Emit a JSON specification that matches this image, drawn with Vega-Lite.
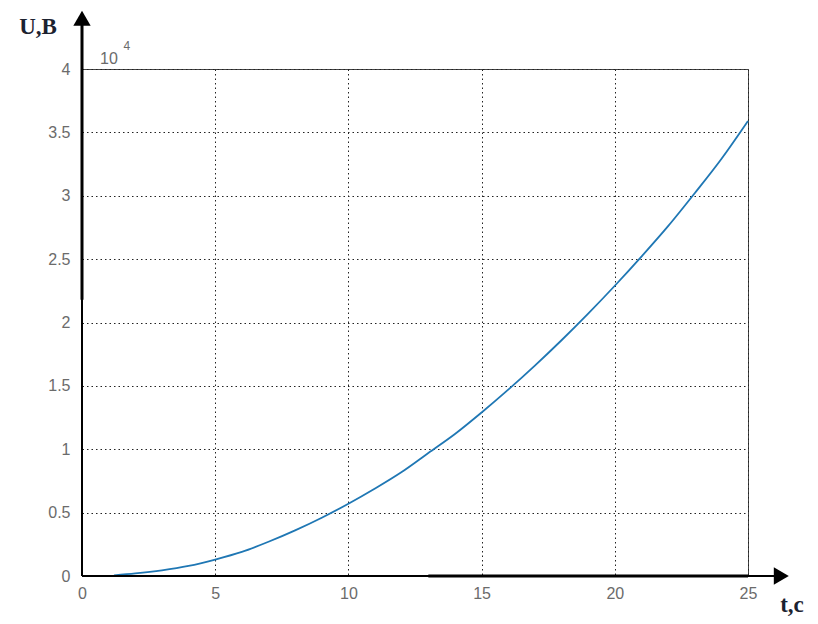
{
  "$schema": "https://vega.github.io/schema/vega-lite/v6.json",
  "width": 666,
  "height": 507,
  "autosize": "none",
  "padding": {"left": 82, "top": 69, "right": 70, "bottom": 48},
  "background": "white",
  "config": {
    "view": {"stroke": "#444", "strokeWidth": 1},
    "font": "Liberation Sans"
  },
  "encoding": {
    "x": {
      "field": "t",
      "type": "quantitative",
      "scale": {"domain": [0, 25], "nice": false, "zero": false},
      "axis": {
        "values": [0, 5, 10, 15, 20, 25],
        "title": null,
        "domain": false,
        "ticks": false,
        "labelPadding": 9,
        "labelFontSize": 16,
        "labelColor": "#6b6b6b",
        "labelFlush": false,
        "grid": true,
        "gridColor": "#222",
        "gridDash": [1.5, 3],
        "gridWidth": 1
      }
    },
    "y": {
      "field": "u",
      "type": "quantitative",
      "scale": {"domain": [0, 40000], "nice": false, "zero": false},
      "axis": {
        "values": [0, 5000, 10000, 15000, 20000, 25000, 30000, 35000, 40000],
        "labelExpr": "datum.value / 10000",
        "title": null,
        "domain": false,
        "ticks": false,
        "labelPadding": 12,
        "labelFontSize": 16,
        "labelColor": "#6b6b6b",
        "labelFlush": false,
        "grid": true,
        "gridColor": "#222",
        "gridDash": [1.5, 3],
        "gridWidth": 1
      }
    }
  },
  "layer": [
    {
      "data": {
        "values": [
          {"t": 1.2, "u": 50},
          {"t": 2, "u": 200},
          {"t": 3, "u": 450},
          {"t": 4, "u": 800},
          {"t": 5, "u": 1300},
          {"t": 6, "u": 1900},
          {"t": 7, "u": 2700},
          {"t": 8, "u": 3600},
          {"t": 9, "u": 4600},
          {"t": 10, "u": 5700},
          {"t": 11, "u": 6900},
          {"t": 12, "u": 8200},
          {"t": 13, "u": 9700},
          {"t": 14, "u": 11200},
          {"t": 15, "u": 12900},
          {"t": 16, "u": 14700},
          {"t": 17, "u": 16600},
          {"t": 18, "u": 18600},
          {"t": 19, "u": 20700},
          {"t": 20, "u": 22900},
          {"t": 21, "u": 25200},
          {"t": 22, "u": 27600},
          {"t": 23, "u": 30200},
          {"t": 24, "u": 32900},
          {"t": 25, "u": 35900}
        ]
      },
      "mark": {"type": "line", "color": "#1f77b4", "strokeWidth": 1.8, "interpolate": "monotone"}
    },
    {
      "data": {"values": [{"t": 0, "u": 0, "u2": 43500}]},
      "mark": {"type": "rule", "color": "black", "strokeWidth": 2},
      "encoding": {"y2": {"field": "u2"}}
    },
    {
      "data": {"values": [{"t": 0, "u": 21800, "u2": 43500}]},
      "mark": {"type": "rule", "color": "black", "strokeWidth": 3},
      "encoding": {"y2": {"field": "u2"}}
    },
    {
      "data": {"values": [{"t": 0, "u": 0, "t2": 26.2}]},
      "mark": {"type": "rule", "color": "black", "strokeWidth": 2},
      "encoding": {"x2": {"field": "t2"}}
    },
    {
      "data": {"values": [{"t": 13, "u": 0, "t2": 25}]},
      "mark": {"type": "rule", "color": "black", "strokeWidth": 3},
      "encoding": {"x2": {"field": "t2"}}
    },
    {
      "data": {"values": [{"t": 0, "u": 44000}]},
      "mark": {"type": "point", "shape": "triangle-up", "filled": true, "color": "black", "opacity": 1, "size": 300}
    },
    {
      "data": {"values": [{"t": 26.25, "u": 0}]},
      "mark": {"type": "point", "shape": "triangle-right", "filled": true, "color": "black", "opacity": 1, "size": 300}
    },
    {
      "data": {"values": [{"t": -1.65, "u": 43300, "label": "U,B"}, {"t": 26.65, "u": -2300, "label": "t,c"}]},
      "mark": {"type": "text", "font": "Liberation Serif", "fontWeight": "bold", "fontSize": 23, "color": "#1c2230", "align": "center", "baseline": "middle"},
      "encoding": {"text": {"field": "label"}}
    },
    {
      "data": {"values": [{"t": 0.68, "u": 40400, "label": "10"}]},
      "mark": {"type": "text", "fontSize": 16, "color": "#6b6b6b", "align": "left", "baseline": "alphabetic"},
      "encoding": {"text": {"field": "label"}}
    },
    {
      "data": {"values": [{"t": 1.56, "u": 41500, "label": "4"}]},
      "mark": {"type": "text", "fontSize": 12, "color": "#6b6b6b", "align": "left", "baseline": "alphabetic"},
      "encoding": {"text": {"field": "label"}}
    }
  ]
}
